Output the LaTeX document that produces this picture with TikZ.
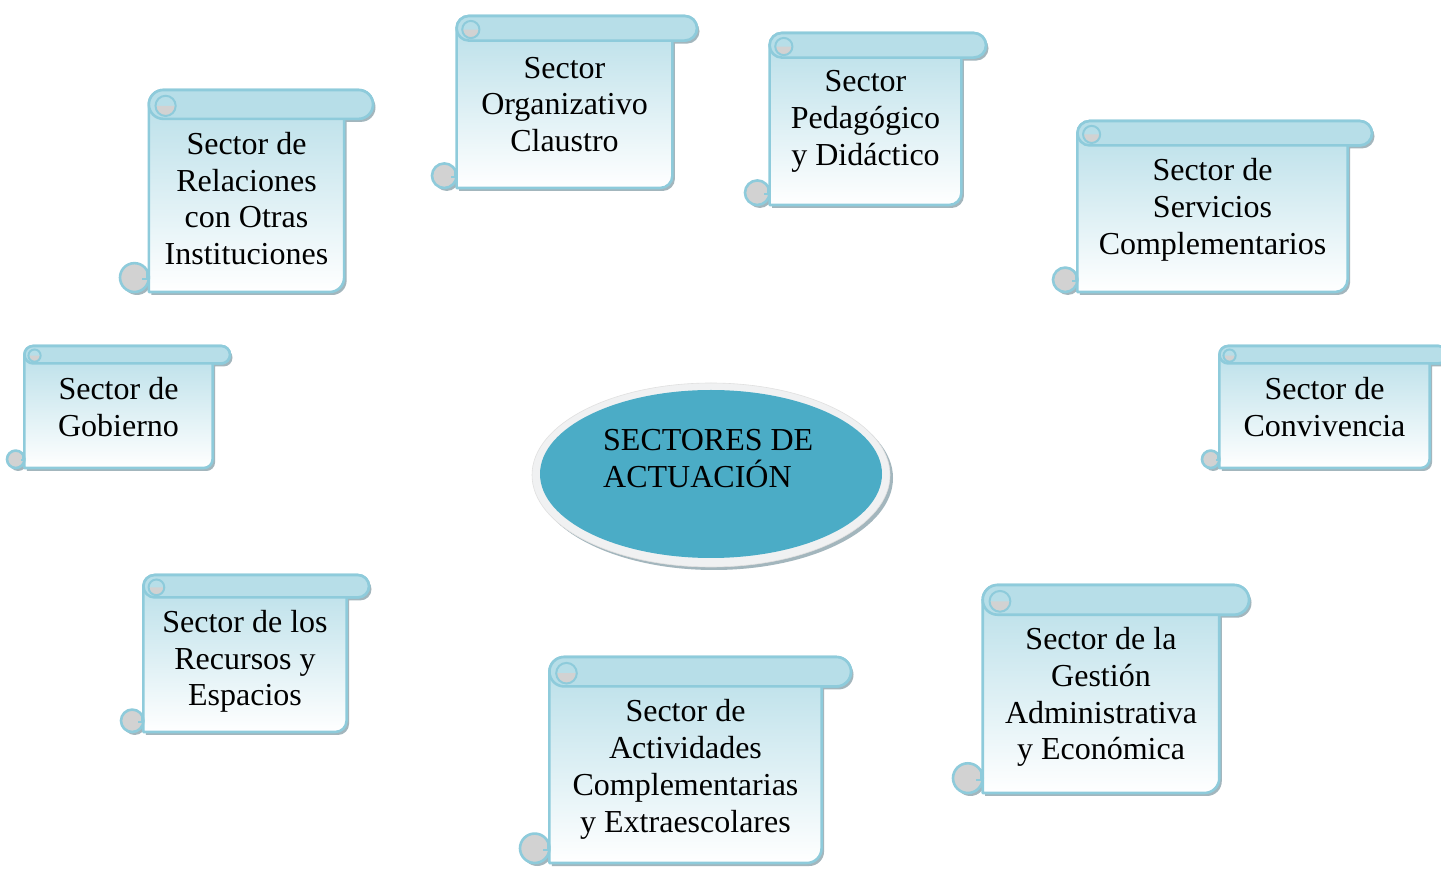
\documentclass[tikz,border=0pt]{standalone}
\usepackage{fontspec}
\setmainfont{Liberation Serif}
\definecolor{rollc}{HTML}{B7DEE8}
\definecolor{borderc}{HTML}{8ECBDB}
\definecolor{shadowc}{HTML}{A3B6BD}
\definecolor{curlc}{HTML}{D2D2D2}
\definecolor{ovalc}{HTML}{4BACC6}
\definecolor{ringc}{HTML}{F0F1F2}
\tikzset{
  border/.style={draw=borderc,line width=2.6pt,line join=round},
  sctext/.style={font=\fontsize{32}{36.8}\selectfont,align=center,inner sep=0pt,text=black},
}
\newcommand{\scrollbox}[6]{%
  \pgfmathsetmacro{\scl}{#2}%
  \pgfmathsetmacro{\scr}{#3}%
  \pgfmathsetmacro{\scT}{868-#4}%
  \pgfmathsetmacro{\scB}{868-#5}%
  \pgfmathsetmacro{\scch}{min(#3-#2,#5-#4)/7}%
  \pgfmathsetmacro{\schc}{\scch/2}%
  \pgfmathsetmacro{\scL}{\scl+\scch}%
  \pgfmathsetmacro{\scR}{\scr-\scch}%
  \pgfmathsetmacro{\scrr}{\schc*0.7}%
  \pgfmathsetmacro{\sccx}{\scL+\schc+\scch*0.08}%
  \pgfmathsetmacro{\sccy}{\scT-\schc-\scch*0.05}%
  % shadow
  \fill[shadowc,shift={(2.5,-3)}] (\scL,\scT-\schc) arc[start angle=180,end angle=90,radius=\schc]
     -- (\scr-\schc,\scT) arc[start angle=90,end angle=-90,radius=\schc]
     -- (\scR,\scT-\scch) -- (\scR,\scB+\schc) arc[start angle=0,end angle=-90,radius=\schc]
     -- (\scL,\scB) -- cycle;
  \fill[shadowc,shift={(2.5,-3)}] (\scl+\schc,\scB+\schc) circle[radius=\schc];
  % body
  \path[border,top color=rollc,bottom color=white] (\scL,\scT-\schc) arc[start angle=180,end angle=90,radius=\schc]
     -- (\scr-\schc,\scT) arc[start angle=90,end angle=-90,radius=\schc]
     -- (\scR,\scT-\scch) -- (\scR,\scB+\schc) arc[start angle=0,end angle=-90,radius=\schc]
     -- (\scL,\scB) -- cycle;
  % top roll
  \path[border,fill=rollc] (\scL,\scT-\schc) arc[start angle=180,end angle=90,radius=\schc]
     -- (\scr-\schc,\scT) arc[start angle=90,end angle=-90,radius=\schc]
     -- (\scL+\schc,\scT-\scch) arc[start angle=270,end angle=180,radius=\schc] -- cycle;
  \fill[curlc] (\sccx-\scrr,\sccy) arc[start angle=180,end angle=360,radius=\scrr] -- cycle;
  \draw[borderc,line width=2pt] (\sccx,\sccy) circle[radius=\scrr];
  % bottom curl
  \path[border,fill=curlc] (\scl+\schc,\scB+\schc) circle[radius=\schc];
  \draw[borderc,line width=1.8pt] (\scL-1.5,\scB+\schc*1.6) -- (\scL-1.5,\scB+\schc*0.9) -- (\scL-\schc*0.45,\scB+\schc*0.9);
  \node[sctext] (#1) at ({(\scL+\scR)/2},{868-#6}) {\csname #1text\endcsname};
}
\def\orgtext{Sector\\Organizativo\\Claustro}
\def\pedtext{Sector\\Pedagógico\\y Didáctico}
\def\reltext{Sector de\\Relaciones\\con Otras\\Instituciones}
\def\sertext{Sector de\\Servicios\\Complementarios}
\def\gobtext{Sector de\\Gobierno}
\def\context{Sector de\\Convivencia}
\def\rectext{Sector de los\\Recursos y\\Espacios}
\def\acttext{Sector de\\Actividades\\Complementarias\\y Extraescolares}
\def\gestext{Sector de la\\Gestión\\Administrativa\\y Económica}
\begin{document}
\begin{tikzpicture}[x=1pt,y=1pt]
\useasboundingbox (0,0) rectangle (1441,868);
\fill[white] (0,0) rectangle (1441,868);
\clip (0,0) rectangle (1441,868);
% central oval
\fill[shadowc] (714,{868-478}) ellipse[x radius=179,y radius=92];
\path[fill=ringc,draw=black!12,line width=0.6pt] (711,{868-475}) ellipse[x radius=179,y radius=92];
\fill[ovalc] (711,{868-474}) ellipse[x radius=171,y radius=84];
\node[font=\fontsize{32}{36.8}\selectfont,align=left,inner sep=0pt,anchor=north west] (centro) at (603,{868-429}) {SECTORES DE\\ACTUACIÓN};
% scrolls
\scrollbox{org}{432}{697}{16}{188}{104.5}
\scrollbox{ped}{745}{986}{33}{205}{121.5}
\scrollbox{rel}{120}{373}{90}{292}{198.5}
\scrollbox{ser}{1053}{1372}{121}{292}{210}
\scrollbox{gob}{7}{230}{346}{468}{407}
\scrollbox{con}{1202}{1447}{346}{468}{407}
\scrollbox{rec}{121}{369}{575}{732}{661.5}
\scrollbox{act}{520}{851}{657}{863}{769.5}
\scrollbox{ges}{953}{1249}{585}{793}{697}
\end{tikzpicture}
\end{document}
